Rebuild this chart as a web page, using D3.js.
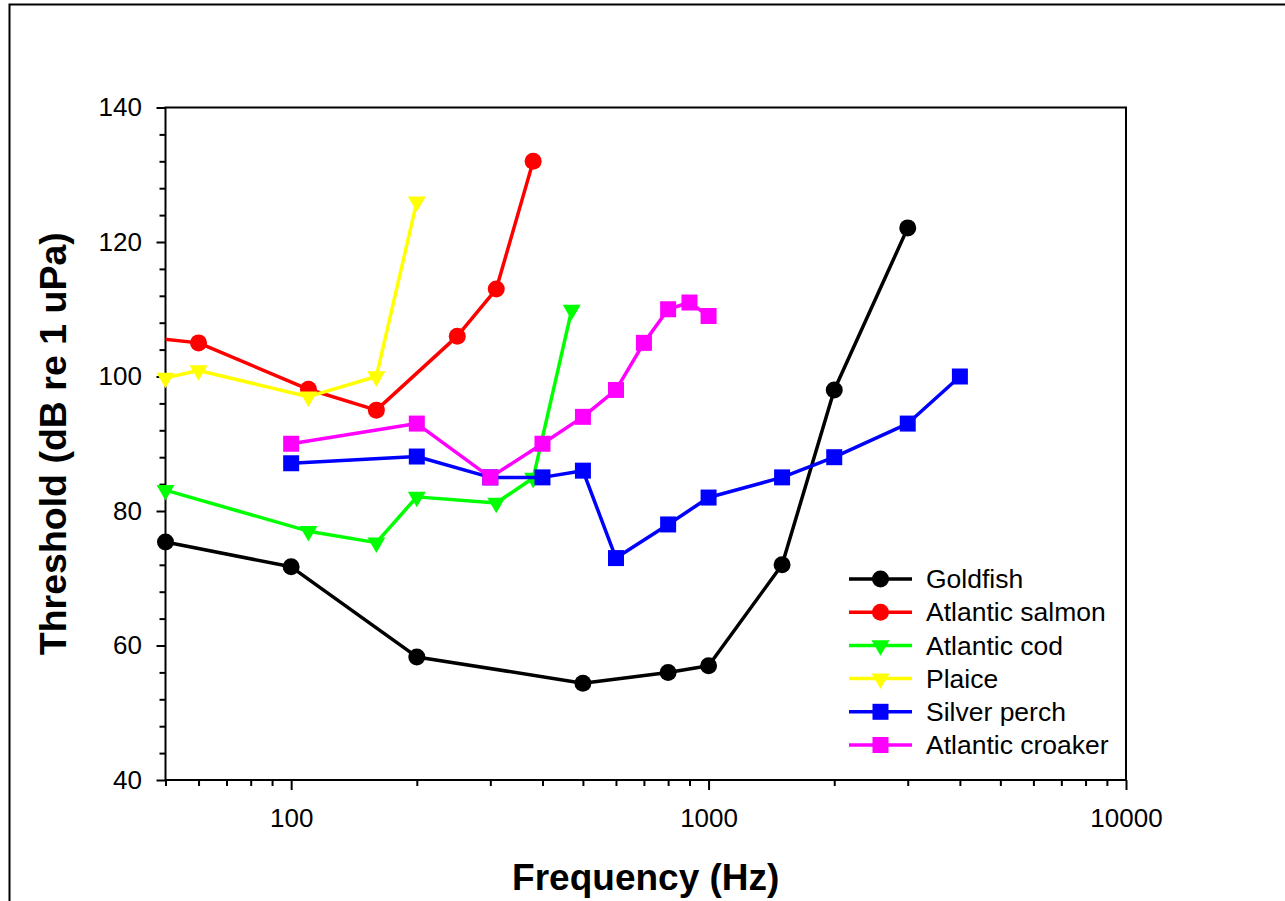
<!DOCTYPE html>
<html>
<head>
<meta charset="utf-8">
<script src="https://cdn.jsdelivr.net/npm/d3@7"></script>
<style>
  body { margin: 0; background: #fff; }
  svg { display: block; font-family: "Liberation Sans", Arial, sans-serif; }
</style>
</head>
<body>
<svg id="chart" width="1285" height="901"></svg>
<script>
// series names and colours
const seriesNames = ['Goldfish', 'Atlantic salmon', 'Atlantic cod', 'Plaice', 'Silver perch', 'Atlantic croaker'];
const seriesColors = ['#000000', '#ff0000', '#00ff00', '#ffff00', '#0000ff', '#ff00ff'];
const seriesSymbols = ['circle', 'circle', 'triangle', 'triangle', 'square', 'square'];

// frequency (Hz) and threshold (dB re 1 uPa) for each species
const goldfishFreq = [50, 100, 200, 500, 800, 1000, 1500, 2000, 3000];
const goldfishThr = [75.4, 71.7, 58.3, 54.4, 56, 57, 72, 98, 122.1];
const salmonFreq = [40, 60, 110, 160, 250, 310, 380];
const salmonThr = [106.2, 105, 98.1, 95, 106, 113, 132];
const codFreq = [50, 110, 160, 200, 310, 380, 470];
const codThr = [83.1, 77, 75.3, 82.1, 81.2, 84.9, 109.9];
const plaiceFreq = [50, 60, 110, 160, 200];
const plaiceThr = [99.8, 100.9, 97, 100, 126];
const perchFreq = [100, 200, 300, 400, 500, 600, 800, 1000, 1500, 2000, 3000, 4000];
const perchThr = [87.1, 88.1, 85, 85, 86, 73, 78, 82, 85, 88, 93, 100];
const croakerFreq = [100, 200, 300, 400, 500, 600, 700, 800, 900, 1000];
const croakerThr = [90, 93, 85, 90, 94, 98, 105, 110, 111, 109];

// axis ticks
const xMajorTicks = [100, 1000, 10000];
const xMinorTicks = [50, 60, 70, 80, 90, 200, 300, 400, 500, 600, 700, 800, 900,
  2000, 3000, 4000, 5000, 6000, 7000, 8000, 9000];
const yMajorTicks = [40, 60, 80, 100, 120, 140];
const yMinorTicks = d3.range(40, 141, 4).filter(v => v % 20 !== 0);

const freqs = [goldfishFreq, salmonFreq, codFreq, plaiceFreq, perchFreq, croakerFreq];
const thrs = [goldfishThr, salmonThr, codThr, plaiceThr, perchThr, croakerThr];
const series = seriesNames.map((name, i) => ({
  name,
  color: seriesColors[i],
  symbol: seriesSymbols[i],
  points: freqs[i].map((f, j) => ({f, v: thrs[i][j]}))
}));

const W = 1285, H = 901;
const margin = {top: 107.5, right: W - 1126, bottom: H - 780, left: 165.5};

const x = d3.scaleLog()
  .domain([50, 10000])
  .range([margin.left, W - margin.right]);
const y = d3.scaleLinear()
  .domain([40, 140])
  .range([H - margin.bottom, margin.top]);

const svg = d3.select('#chart');

// outer frame (cropped on the right and bottom)
svg.append('rect')
  .attr('x', 9.5).attr('y', 4.5)
  .attr('width', W + 20).attr('height', H + 20)
  .attr('fill', 'none').attr('stroke', '#000').attr('stroke-width', 2);

svg.append('defs').append('clipPath').attr('id', 'plot-clip')
  .append('rect')
  .attr('x', margin.left).attr('y', margin.top)
  .attr('width', W - margin.right - margin.left)
  .attr('height', H - margin.bottom - margin.top);

function styleAxis(g) {
  g.select('.domain').remove();
  g.selectAll('.tick line').attr('stroke-width', 2);
  g.selectAll('.tick text').attr('font-size', 26).attr('fill', '#000');
}

// x axis
svg.append('g')
  .attr('transform', `translate(0,${y(40)})`)
  .call(d3.axisBottom(x).tickValues(xMinorTicks).tickSize(6).tickFormat(''))
  .call(styleAxis);
svg.append('g')
  .attr('transform', `translate(0,${y(40)})`)
  .call(d3.axisBottom(x).tickValues(xMajorTicks).tickSize(10).tickPadding(18.5).tickFormat(d3.format('d')))
  .call(styleAxis);

// y axis
svg.append('g')
  .attr('transform', `translate(${x(50)},0)`)
  .call(d3.axisLeft(y).tickValues(yMinorTicks).tickSize(6).tickFormat(''))
  .call(styleAxis);
svg.append('g')
  .attr('transform', `translate(${x(50)},0)`)
  .call(d3.axisLeft(y).tickValues(yMajorTicks).tickSize(9).tickPadding(14.5))
  .call(styleAxis);

// plot frame
svg.append('rect')
  .attr('x', margin.left).attr('y', margin.top)
  .attr('width', W - margin.right - margin.left)
  .attr('height', H - margin.bottom - margin.top)
  .attr('fill', 'none').attr('stroke', '#000').attr('stroke-width', 2);

// axis titles
svg.append('text')
  .attr('x', (x.range()[0] + x.range()[1]) / 2)
  .attr('y', 890)
  .attr('text-anchor', 'middle')
  .attr('font-size', 37).attr('font-weight', 'bold')
  .text('Frequency (Hz)');
svg.append('text')
  .attr('transform', `translate(66,${(y.range()[0] + y.range()[1]) / 2}) rotate(-90)`)
  .attr('text-anchor', 'middle')
  .attr('font-size', 37.5).attr('font-weight', 'bold')
  .text('Threshold (dB re 1 uPa)');

function symbolPath(kind) {
  if (kind === 'circle') return d3.symbol(d3.symbolCircle, Math.PI * 8.5 * 8.5)();
  if (kind === 'square') return d3.symbol(d3.symbolSquare, 16 * 16)();
  return d3.symbol(d3.symbolTriangle, Math.sqrt(3) / 4 * 18 * 18)();
}
function symbolTransform(kind, px, py) {
  return `translate(${px},${py})` + (kind === 'triangle' ? ' rotate(180)' : '');
}

const line = d3.line()
  .x(d => x(d.f))
  .y(d => y(d.v));

const inDomain = d => d.f >= x.domain()[0] && d.f <= x.domain()[1];

series.forEach(s => {
  const g = svg.append('g');
  g.append('path')
    .attr('clip-path', 'url(#plot-clip)')
    .attr('d', line(s.points))
    .attr('fill', 'none')
    .attr('stroke', s.color)
    .attr('stroke-width', 3.5)
    .attr('stroke-linejoin', 'round');
  g.selectAll('path.mark')
    .data(s.points.filter(inDomain))
    .join('path')
    .attr('class', 'mark')
    .attr('d', symbolPath(s.symbol))
    .attr('transform', d => symbolTransform(s.symbol, x(d.f), y(d.v)))
    .attr('fill', s.color);
});

// legend
const legend = svg.append('g');
const rowY = i => 579 + i * 33.2;
series.forEach((s, i) => {
  legend.append('line')
    .attr('x1', 849).attr('x2', 912)
    .attr('y1', rowY(i)).attr('y2', rowY(i))
    .attr('stroke', s.color).attr('stroke-width', 3.5);
  legend.append('path')
    .attr('d', symbolPath(s.symbol))
    .attr('transform', symbolTransform(s.symbol, 880.5, rowY(i)))
    .attr('fill', s.color);
  legend.append('text')
    .attr('x', 926).attr('y', rowY(i))
    .attr('dy', '0.35em')
    .attr('font-size', 26.5)
    .text(s.name);
});
</script>
</body>
</html>
